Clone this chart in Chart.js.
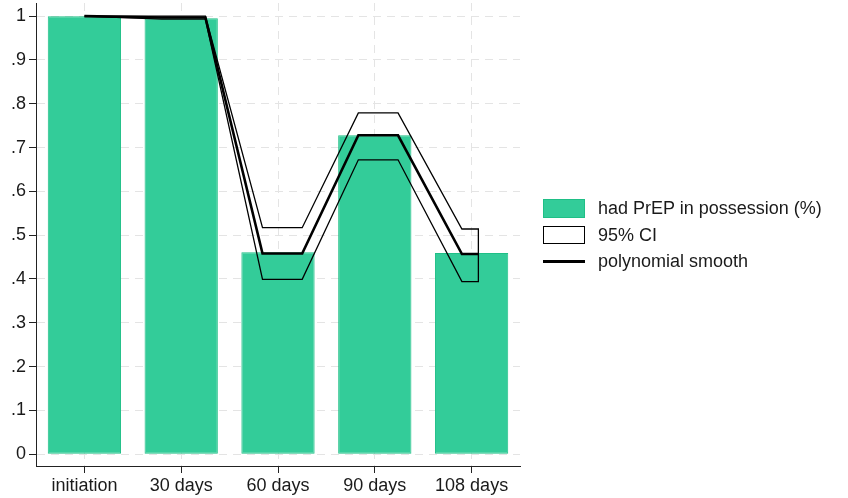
<!DOCTYPE html>
<html>
<head>
<meta charset="utf-8">
<script src="https://cdn.jsdelivr.net/npm/chart.js@4.4.1/dist/chart.umd.min.js"></script>
<style>
  body { margin: 0; background: #fff; }
  #wrap { position: relative; width: 848px; height: 498px; font-family: "Liberation Sans", Arial, sans-serif; }
  #legend { position: absolute; left: 543px; top: 195px; font-size: 18px; color: #1a1a1a; }
  .row { display: flex; align-items: center; height: 26.7px; }
  .key { width: 42px; margin-right: 13px; box-sizing: border-box; }
  .k-bar { height: 19px; background: #33cc99; border: 1px solid #1fbf86; }
  .k-ci { height: 18px; background: #fff; border: 1.5px solid #000; }
  .k-line { height: 2.5px; background: #000; }
</style>
</head>
<body>
<div id="wrap">
  <canvas id="chart" width="848" height="498"></canvas>
  <div id="legend">
    <div class="row"><div class="key k-bar"></div><span>had PrEP in possession (%)</span></div>
    <div class="row"><div class="key k-ci"></div><span>95% CI</span></div>
    <div class="row"><div class="key k-line"></div><span>polynomial smooth</span></div>
  </div>
</div>
<script>
// categories and bar values
const categories = ["initiation", "30 days", "60 days", "90 days", "108 days"];
const possession = [1.0, 0.995, 0.461, 0.728, 0.459];

// smooth + CI, x in category units (0 = initiation ... 4 = 108 days)
const smoothX = [0, 0.8, 1.25, 1.84, 2.25, 2.83, 3.24, 3.9, 4.07];
const smoothY = [1, 0.997, 0.997, 0.458, 0.458, 0.728, 0.728, 0.457, 0.457];
const ciUpper = [1, 1.0, 1.0, 0.517, 0.517, 0.779, 0.779, 0.514, 0.514];
const ciLower = [1, 0.993, 0.993, 0.399, 0.399, 0.672, 0.672, 0.394, 0.394];

const yTicks = [0, 0.1, 0.2, 0.3, 0.4, 0.5, 0.6, 0.7, 0.8, 0.9, 1];
const yTickLabels = ["0", ".1", ".2", ".3", ".4", ".5", ".6", ".7", ".8", ".9", "1"];

const txt = "#1a1a1a";
const font = { family: "'Liberation Sans', Arial, sans-serif", size: 18 };

// CI drawn as a closed outline: upper forward, lower back
const ciPoly = smoothX.map((x, i) => ({ x: x, y: ciUpper[i] }))
  .concat(smoothX.map((x, i) => ({ x: x, y: ciLower[i] })).reverse());
const smoothPts = smoothX.map((x, i) => ({ x: x, y: smoothY[i] }));

new Chart(document.getElementById("chart"), {
  type: "bar",
  data: {
    labels: categories,
    datasets: [
      {
        type: "bar",
        label: "had PrEP in possession (%)",
        data: possession,
        backgroundColor: "#33cc99",
        borderColor: "#1fbf86",
        borderWidth: 1,
        borderSkipped: false,
        grouped: false,
        barPercentage: 0.757,
        categoryPercentage: 1,
        order: 3,
      },
      {
        type: "line",
        label: "95% CI",
        data: ciPoly,
        xAxisID: "xl",
        borderColor: "#000",
        borderWidth: 1.3,
        pointRadius: 0,
        tension: 0,
        fill: false,
        order: 2,
      },
      {
        type: "line",
        label: "polynomial smooth",
        data: smoothPts,
        xAxisID: "xl",
        borderColor: "#000",
        borderWidth: 2.6,
        pointRadius: 0,
        tension: 0,
        fill: false,
        order: 1,
      },
    ],
  },
  options: {
    responsive: false,
    animation: false,
    layout: { padding: { left: 0, right: 328, top: 3, bottom: 0 } },
    plugins: { legend: { display: false }, tooltip: { enabled: false } },
    scales: {
      x: {
        type: "category",
        offset: true,
        grid: {
          offset: false,
          color: "#e4e4e4",
          tickColor: "#222",
          tickLength: 7,
          tickBorderDash: [],
        },
        border: { color: "#222", width: 1, dash: [8, 6] },
        ticks: { color: txt, font: font, padding: 2 },
        afterFit: (s) => { s.height = 32; s.paddingLeft = 0; s.paddingRight = 0; },
      },
      xl: {
        type: "linear",
        display: false,
        offset: false,
        bounds: "data",
        min: -0.5,
        max: 4.5,
      },
      y: {
        min: -0.027,
        max: 1.03,
        afterBuildTicks: (s) => { s.ticks = yTicks.map((v) => ({ value: v })); },
        grid: {
          color: "#e4e4e4",
          tickColor: "#222",
          tickLength: 7,
          tickBorderDash: [],
        },
        border: { color: "#222", width: 1, dash: [8, 6] },
        ticks: {
          color: txt,
          font: font,
          padding: 3,
          callback: (v, i) => yTickLabels[i],
        },
        afterFit: (s) => { s.width = 36; s.paddingTop = 0; s.paddingBottom = 0; },
      },
    },
  },
});
</script>
</body>
</html>
